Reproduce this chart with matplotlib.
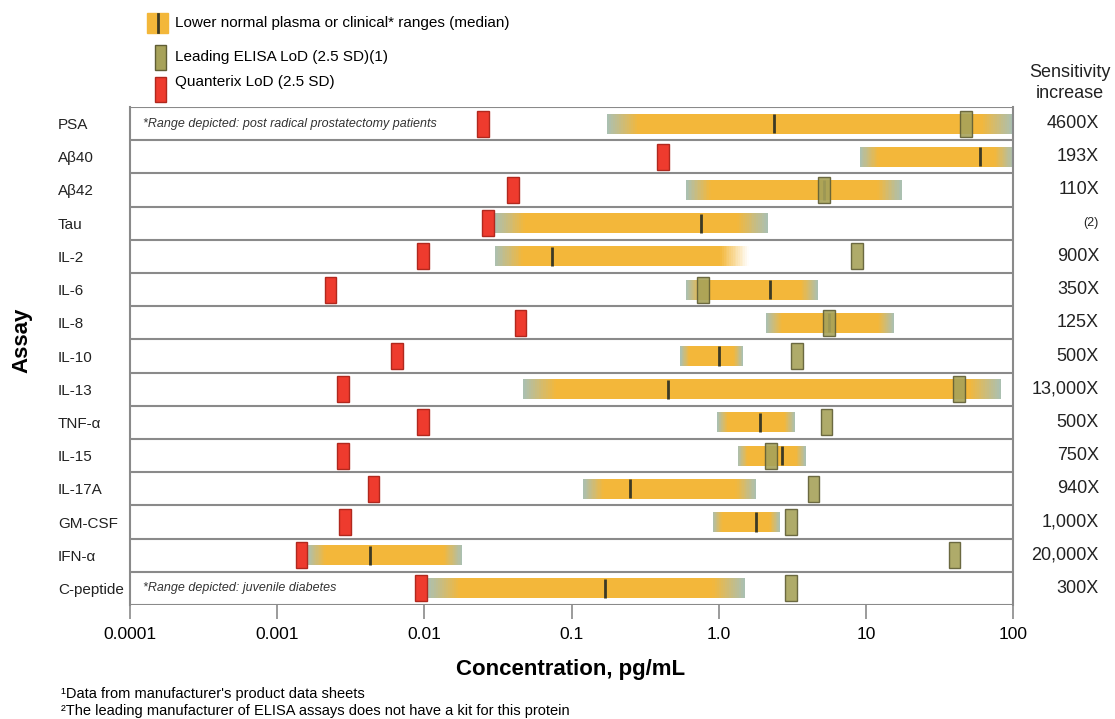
import numpy as np
import matplotlib
matplotlib.use("Agg")
import matplotlib.pyplot as plt
from matplotlib.patches import Rectangle
from matplotlib.colors import to_rgb
import matplotlib.transforms as mtransforms

plt.rcParams['font.family'] = ['Liberation Sans', 'DejaVu Sans']

# Данные (pg/mL)
assays = ['PSA', 'Aβ40', 'Aβ42', 'Tau', 'IL-2', 'IL-6', 'IL-8', 'IL-10', 'IL-13',
          'TNF-α', 'IL-15', 'IL-17A', 'GM-CSF', 'IFN-α', 'C-peptide']
range_low = [0.174, 9.1, 0.6, 0.030, 0.030, 0.6, 2.09, 0.55, 0.047,
             0.98, 1.35, 0.12, 0.91, 0.0016, 0.0105]
range_high = [100, 100, 17.5, 2.15, 1.6, 4.7, 15.5, 1.46, 83,
              3.3, 3.9, 1.8, 2.6, 0.018, 1.52]
median = [2.37, 60, 5.2, 0.76, 0.074, 2.23, 5.6, 1.0, 0.45,
          1.9, 2.7, 0.25, 1.78, 0.0043, 0.17]
elisa_lod = [48, None, 5.2, None, 8.7, 0.78, 5.6, 3.4, 43,
             5.4, 2.26, 4.4, 3.1, 40, 3.1]
quanterix_lod = [0.025, 0.42, 0.04, 0.027, 0.0098, 0.0023, 0.045, 0.0065, 0.0028,
                 0.0098, 0.0028, 0.0045, 0.0029, 0.00146, 0.0095]
sensitivity = ['4600X', '193X', '110X', '(2)', '900X', '350X', '125X', '500X', '13,000X',
               '500X', '750X', '940X', '1,000X', '20,000X', '300X']
fade_to_white = ['IL-2']
notes = {'PSA': '*Range depicted: post radical prostatectomy patients',
         'C-peptide': '*Range depicted: juvenile diabetes'}
x_ticks = [1e-4, 1e-3, 1e-2, 1e-1, 1, 10, 100]
x_tick_labels = ['0.0001', '0.001', '0.01', '0.1', '1.0', '10', '100']

ORANGE = '#F3B73A'
EDGE = '#A9C0B4'
RED = '#EE3B2E'
OLIVE = '#A7A25A'
W, H = 1115, 719


def fx(px):
    return px / W


def fy(py):
    return 1 - py / H


def mix(c1, c2, w):
    a = np.array(to_rgb(c1))
    b = np.array(to_rgb(c2))
    return tuple(a * (1 - w) + b * w)


fig = plt.figure(figsize=(W / 100, H / 100), dpi=100)
ax = fig.add_axes([fx(130), fy(605), fx(1013) - fx(130), fy(107) - fy(605)])
ax.set_xscale('log')
ax.set_xlim(1e-4, 100)
n = len(assays)
ax.set_ylim(n - 0.5, -0.5)


# Полоса диапазона с градиентом по краям
def draw_range(y, lo, hi, right_col, h=0.6):
    a, b = np.log10(lo), np.log10(hi)
    span = b - a
    f = min(0.22, 0.1 * span + 0.02)
    ax.barh(y, 10 ** (b - f) - 10 ** (a + f), left=10 ** (a + f), height=h,
            color=ORANGE, linewidth=0, zorder=2)
    steps = 16
    for i in range(steps):
        w = (i + 0.5) / steps
        # левый край
        t0 = a + f * i / steps
        t1 = a + f * (i + 1) / steps + 0.004
        ax.barh(y, 10 ** t1 - 10 ** t0, left=10 ** t0, height=h,
                color=mix(EDGE, ORANGE, w), linewidth=0, zorder=2)
        # правый край
        t0 = b - f * (i + 1) / steps - 0.004
        t1 = b - f * i / steps
        ax.barh(y, 10 ** t1 - 10 ** t0, left=10 ** t0, height=h,
                color=mix(right_col, ORANGE, w), linewidth=0, zorder=2)


def draw_mark(y, v, fill, edge, alpha=1.0, z=4):
    half = 10 ** 0.039
    ax.barh(y, v * half - v / half, left=v / half, height=0.78, color=fill,
            edgecolor=edge, linewidth=1, alpha=alpha, zorder=z)


for i, name in enumerate(assays):
    right_col = '#FFFFFF' if name in fade_to_white else EDGE
    draw_range(i, range_low[i], range_high[i], right_col)
    ax.vlines(median[i], i - 0.29, i + 0.29, color='#3c3a25', linewidth=2, zorder=3)
    if elisa_lod[i] is not None:
        draw_mark(i, elisa_lod[i], OLIVE, '#5f5d35', alpha=0.9, z=4)
    draw_mark(i, quanterix_lod[i], RED, '#B0281E', z=5)

# линии строк
for k in range(n + 1):
    ax.axhline(k - 0.5, color='#8a8a8a', linewidth=1.5, zorder=6)
for s in ['top', 'bottom']:
    ax.spines[s].set_visible(False)
for s in ['left', 'right']:
    ax.spines[s].set_color('#8a8a8a')
    ax.spines[s].set_linewidth(1.5)
    ax.spines[s].set_zorder(6)

ax.set_xticks(x_ticks, labels=x_tick_labels)
ax.xaxis.set_minor_locator(matplotlib.ticker.NullLocator())
ax.tick_params(axis='x', length=10, width=1.2, color='#8a8a8a', labelsize=12.5, pad=6)
ax.set_yticks(range(n), labels=assays)
ax.tick_params(axis='y', length=0, pad=52, labelsize=11, labelcolor='#222222')
for lab in ax.get_yticklabels():
    lab.set_ha('left')

# подписи "Sensitivity increase"
tr = mtransforms.blended_transform_factory(ax.transAxes, ax.transData)
for i, s in enumerate(sensitivity):
    ax.text((1099 - 130) / 883, i, s, transform=tr, ha='right', va='center',
            fontsize=9 if s.startswith('(') else 13, clip_on=False, color='#222222')
fig.text(fx(1070), fy(83), 'Sensitivity\nincrease', ha='center', va='center',
         fontsize=13, linespacing=1.25, color='#222222')

# примечания в строках
for name, txt in notes.items():
    ax.text((143 - 130) / 883, assays.index(name), txt, transform=tr, ha='left',
            va='center', fontsize=9, style='italic', color='#333333', zorder=7)

fig.text(fx(571), fy(669), 'Concentration, pg/mL', ha='center', va='center',
         fontsize=16, fontweight='bold')
fig.text(fx(22), fy(340), 'Assay', ha='center', va='center', rotation=90,
         fontsize=16, fontweight='bold')

fig.text(fx(61), fy(694), '¹Data from manufacturer\'s product data sheets',
         ha='left', va='center', fontsize=10.5)
fig.text(fx(61), fy(711), '²The leading manufacturer of ELISA assays does not have a kit for this protein',
         ha='left', va='center', fontsize=10.5)

# легенда
def fig_rect(x0, y0, x1, y1, fill, edge=None):
    fig.patches.append(Rectangle((fx(x0), fy(y1)), fx(x1) - fx(x0), fy(y0) - fy(y1),
                                 transform=fig.transFigure, facecolor=fill,
                                 edgecolor=edge if edge else fill, linewidth=1))

fig_rect(147, 13, 168, 33, ORANGE)
fig.lines.append(plt.Line2D([fx(158), fx(158)], [fy(14), fy(32)], transform=fig.transFigure,
                            color='#3c3a25', linewidth=2))
fig_rect(155, 45, 166, 70, OLIVE, '#5f5d35')
fig_rect(155, 77, 166, 102, RED, '#B0281E')
legend_texts = ['Lower normal plasma or clinical* ranges (median)',
                'Leading ELISA LoD (2.5 SD)(1)', 'Quanterix LoD (2.5 SD)']
for t, yy in zip(legend_texts, [23, 57, 82]):
    fig.text(fx(175), fy(yy), t, ha='left', va='center', fontsize=11)

fig.savefig('out.png', dpi=100)
